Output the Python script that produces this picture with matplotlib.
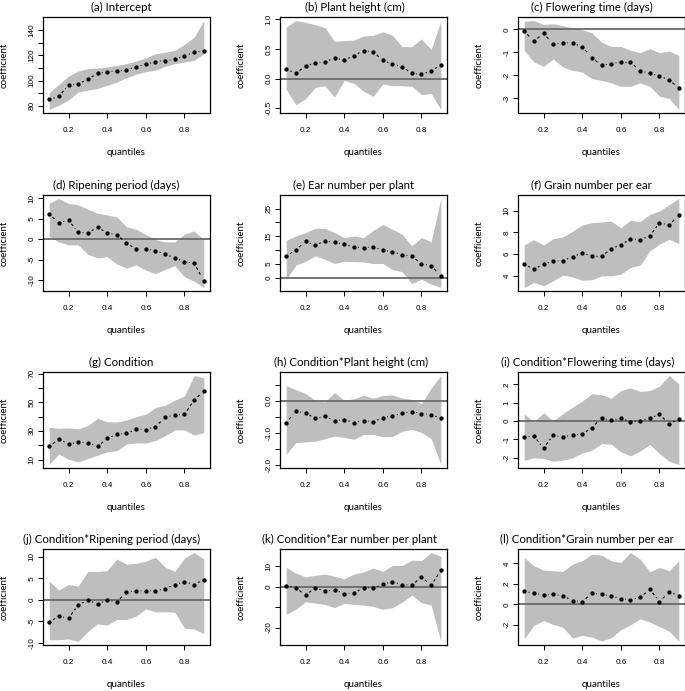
import numpy as np
import matplotlib
matplotlib.use("Agg")
import matplotlib.pyplot as plt
from matplotlib.collections import LineCollection

# quantile levels (tau = 0.10, 0.15, ..., 0.90)
taus = np.round(np.arange(0.10, 0.901, 0.05), 2)

# (a) Intercept
a_est = [85.0, 87.4, 96.6, 97.1, 101.0, 105.8, 106.8, 107.6, 108.4, 111.0, 112.9, 115.0, 115.8, 116.8, 119.7, 122.4, 123.7]
a_lo = [77.1, 80.5, 84.5, 91.0, 92.4, 93.7, 96.3, 98.7, 102.4, 105.0, 107.1, 108.2, 111.3, 113.4, 114.7, 116.0, 121.3]
a_hi = [90.3, 97.0, 103.4, 107.6, 109.5, 110.0, 110.8, 112.0, 113.4, 115.5, 118.0, 121.3, 122.4, 124.0, 128.7, 134.5, 147.6]

# (b) Plant height (cm)
b_est = [0.16, 0.09, 0.21, 0.27, 0.28, 0.35, 0.31, 0.39, 0.47, 0.45, 0.31, 0.24, 0.20, 0.09, 0.07, 0.13, 0.23]
b_lo = [-0.18, -0.44, -0.34, -0.15, -0.12, -0.31, -0.03, -0.08, -0.21, -0.30, -0.09, -0.12, -0.12, -0.13, -0.27, -0.25, -0.52]
b_hi = [0.87, 0.98, 0.95, 0.91, 0.86, 0.63, 0.64, 0.65, 0.72, 0.73, 0.79, 0.73, 0.54, 0.54, 0.67, 0.49, 0.97]

# (c) Flowering time (days)
c_est = [-0.07, -0.51, -0.17, -0.64, -0.58, -0.59, -0.75, -1.23, -1.57, -1.49, -1.42, -1.42, -1.81, -1.90, -2.04, -2.19, -2.57]
c_lo = [-0.91, -1.42, -1.61, -1.29, -1.64, -1.78, -1.86, -2.14, -2.22, -2.33, -2.48, -2.48, -2.33, -2.48, -2.91, -3.01, -3.49]
c_hi = [0.36, 0.39, 0.22, 0.25, 0.17, 0.07, -0.01, -0.14, -0.55, -0.74, -0.74, -0.91, -1.01, -0.84, -1.01, -0.94, -1.13]

# (d) Ripening period (days)
d_est = [6.1, 4.0, 4.6, 1.7, 1.5, 2.9, 1.5, 1.1, -1.0, -2.4, -2.4, -2.8, -3.7, -4.6, -5.5, -5.9, -10.2]
d_lo = [0.7, -0.7, -1.4, -1.4, -3.7, -4.6, -4.3, -6.1, -7.1, -6.3, -7.6, -8.4, -7.4, -6.5, -9.2, -10.3, -11.8]
d_hi = [8.8, 9.9, 8.7, 8.4, 7.3, 6.3, 5.9, 5.4, 3.0, 2.4, 1.1, -0.1, -0.7, -0.7, 1.2, 2.0, -0.2]

# (e) Ear number per plant
e_est = [7.8, 10.0, 13.2, 11.7, 13.3, 12.8, 12.1, 11.0, 10.9, 11.0, 10.0, 9.3, 8.3, 7.7, 5.0, 4.3, 0.6]
e_lo = [-0.8, 4.5, 5.9, 7.9, 6.6, 5.1, 5.9, 5.8, 5.7, 5.1, 5.1, 2.9, 2.1, -2.2, -0.6, -2.4, -3.6]
e_hi = [13.5, 15.1, 16.3, 17.9, 17.9, 16.3, 14.5, 15.1, 14.5, 17.1, 19.3, 17.5, 15.7, 11.5, 14.5, 13.0, 28.7]

# (f) Grain number per ear
f_est = [5.07, 4.6, 5.07, 5.34, 5.4, 5.74, 6.1, 5.8, 5.8, 6.47, 6.87, 7.35, 7.32, 7.66, 8.88, 8.66, 9.6]
f_lo = [2.93, 3.39, 3.09, 3.54, 4.06, 3.9, 3.6, 3.63, 4.0, 4.0, 4.15, 4.76, 4.97, 6.29, 6.9, 7.35, 6.96]
f_hi = [6.84, 7.32, 6.84, 7.41, 7.57, 8.1, 8.66, 8.88, 8.94, 9.03, 8.42, 9.1, 8.97, 9.64, 9.95, 10.55, 11.1]

# (g) Condition
g_est = [19.2, 24.3, 20.8, 22.2, 21.7, 19.2, 24.7, 27.7, 28.2, 31.1, 30.9, 33.0, 39.4, 41.3, 41.5, 51.6, 57.8]
g_lo = [6.6, 13.9, 10.2, 8.4, 10.7, 13.0, 15.3, 16.2, 20.8, 21.7, 21.5, 23.3, 26.6, 30.7, 30.7, 27.0, 28.9]
g_hi = [32.5, 31.8, 32.1, 31.4, 33.7, 38.7, 36.4, 36.2, 37.6, 39.9, 41.7, 46.3, 47.9, 51.4, 54.4, 68.6, 67.0]

# (h) Condition*Plant height (cm)
h_est = [-0.68, -0.33, -0.38, -0.55, -0.49, -0.62, -0.59, -0.68, -0.62, -0.66, -0.53, -0.47, -0.39, -0.34, -0.40, -0.43, -0.55]
h_lo = [-1.67, -1.30, -1.28, -1.26, -1.18, -1.10, -1.14, -1.20, -1.05, -1.05, -1.12, -1.11, -0.95, -0.89, -0.99, -1.18, -1.98]
h_hi = [0.47, 0.34, 0.22, 0.01, -0.04, 0.25, 0.01, 0.06, 0.16, 0.08, 0.16, 0.18, 0.08, 0.04, -0.09, 0.39, 0.78]

# (i) Condition*Flowering time (days)
i_est = [-0.89, -0.82, -1.49, -0.78, -0.89, -0.75, -0.73, -0.36, 0.16, 0.05, 0.16, -0.05, 0.02, 0.15, 0.36, -0.15, 0.09]
i_lo = [-2.15, -2.02, -2.05, -2.20, -2.15, -2.02, -1.75, -1.60, -1.24, -1.27, -1.69, -1.91, -1.65, -1.29, -1.78, -2.20, -2.38]
i_hi = [0.40, -0.05, 0.45, 0.02, 0.40, 0.76, 1.09, 1.49, 1.44, 1.25, 1.67, 1.82, 1.62, 1.67, 1.91, 2.49, 2.04]

# (j) Condition*Ripening period (days)
j_est = [-5.2, -3.8, -4.3, -1.2, -0.15, -0.9, -0.15, -0.5, 1.85, 2.1, 2.15, 2.1, 2.6, 3.5, 4.2, 3.55, 4.7]
j_lo = [-9.3, -9.3, -9.1, -9.7, -7.4, -5.6, -5.9, -4.6, -4.6, -3.8, -2.1, -2.8, -2.8, -2.9, -6.6, -6.8, -7.9]
j_hi = [4.3, 2.3, 3.55, 3.2, 6.6, 6.55, 6.8, 9.5, 8.3, 8.5, 9.0, 9.9, 7.6, 6.6, 9.7, 11.0, 9.5]

# (k) Condition*Ear number per plant
k_est = [0.5, -0.6, -4.2, -0.6, -2.3, -1.6, -3.4, -3.2, -0.6, -0.8, 1.1, 2.3, 1.0, 0.6, 4.7, 0.6, 7.9]
k_lo = [-13.5, -11.1, -7.4, -8.1, -8.7, -10.3, -8.2, -8.7, -9.0, -9.7, -11.1, -10.3, -7.6, -4.2, -7.9, -9.0, -26.8]
k_hi = [9.4, 6.6, 4.7, 5.5, 6.1, 5.0, 3.7, 6.1, 7.1, 9.0, 7.4, 10.3, 10.3, 12.9, 12.7, 16.6, 14.8]

# (l) Condition*Grain number per ear
l_est = [1.27, 1.07, 0.91, 0.97, 0.84, 0.36, 0.26, 1.07, 0.97, 0.81, 0.55, 0.45, 0.68, 1.46, 0.26, 1.2, 0.84]
l_lo = [-3.38, -2.08, -1.59, -1.98, -2.24, -3.31, -3.05, -3.21, -3.6, -3.28, -2.5, -2.01, -1.43, -1.75, -2.18, -2.63, -3.64]
l_hi = [4.58, 3.77, 3.35, 3.28, 3.21, 3.93, 4.25, 4.9, 4.8, 4.25, 4.09, 5.06, 4.42, 3.18, 3.6, 3.28, 4.25]

titles = ["(a) Intercept", "(b) Plant height (cm)", "(c) Flowering time (days)",
          "(d) Ripening period (days)", "(e) Ear number per plant", "(f) Grain number per ear",
          "(g) Condition", "(h) Condition*Plant height (cm)", "(i) Condition*Flowering time (days)",
          "(j) Condition*Ripening period (days)", "(k) Condition*Ear number per plant",
          "(l) Condition*Grain number per ear"]

# y ticks per panel: (positions, labels) - R drops overlapping labels
yticks = [
    ([80, 90, 100, 110, 120, 130, 140], ["80", "", "100", "", "120", "", "140"]),
    ([-0.5, 0.0, 0.5, 1.0], ["-0.5", "0.0", "0.5", "1.0"]),
    ([-3, -2, -1, 0], ["-3", "-2", "-1", "0"]),
    ([-10, -5, 0, 5, 10], ["-10", "-5", "0", "5", "10"]),
    ([0, 5, 10, 15, 20, 25], ["0", "5", "", "15", "", "25"]),
    ([4, 6, 8, 10], ["4", "6", "8", "10"]),
    ([10, 20, 30, 40, 50, 60, 70], ["10", "", "30", "", "50", "", "70"]),
    ([-2.0, -1.5, -1.0, -0.5, 0.0, 0.5], ["-2.0", "", "-1.0", "", "0.0", ""]),
    ([-2, -1, 0, 1, 2], ["-2", "-1", "0", "1", "2"]),
    ([-10, -5, 0, 5, 10], ["-10", "-5", "0", "5", "10"]),
    ([-20, -10, 0, 10], ["-20", "", "0", "10"]),
    ([-2, 0, 2, 4], ["-2", "0", "2", "4"]),
]

panels = [(a_est, a_lo, a_hi), (b_est, b_lo, b_hi), (c_est, c_lo, c_hi),
          (d_est, d_lo, d_hi), (e_est, e_lo, e_hi), (f_est, f_lo, f_hi),
          (g_est, g_lo, g_hi), (h_est, h_lo, h_hi), (i_est, i_lo, i_hi),
          (j_est, j_lo, j_hi), (k_est, k_lo, k_hi), (l_est, l_lo, l_hi)]

W, H = 685, 691
fig = plt.figure(figsize=(W / 100, H / 100), dpi=100)

lefts = [43, 280, 518]
tops = [17, 195, 372, 549]
aw, ah = 167, 96

label_font = "Lato"
tick_font = "Liberation Sans"
gap = 4.5  # pixel gap around points, like R type="b"

axes, title_texts = [], []
for n, (est, lo, hi) in enumerate(panels):
    r, c = divmod(n, 3)
    ax = fig.add_axes([lefts[c] / W, 1 - (tops[r] + ah) / H, aw / W, ah / H])
    est = np.asarray(est)
    ax.fill_between(taus, lo, hi, color="#bebebe", lw=0, zorder=1)

    # R-style axis ranges: data range extended by 4 %
    ymin, ymax = min(lo), max(hi)
    dy = (ymax - ymin) * 0.04
    dx = (taus[-1] - taus[0]) * 0.04
    ax.set_xlim(taus[0] - dx, taus[-1] + dx)
    ax.set_ylim(ymin - dy, ymax + dy)

    ax.axhline(0, color="#6a6a6a", lw=1.3, zorder=2)

    # dashed connectors with gaps at the points
    pts = ax.transData.transform(np.column_stack([taus, est]))
    segs = []
    for p0, p1 in zip(pts[:-1], pts[1:]):
        d = p1 - p0
        L = np.hypot(*d)
        if L > 2 * gap + 0.5:
            u = d / L
            segs.append(ax.transData.inverted().transform([p0 + u * gap, p1 - u * gap]))
    ax.add_collection(LineCollection(segs, colors="black", linewidths=0.8,
                                     linestyles=[(0, (2.5, 2.5))], zorder=3))
    ax.plot(taus, est, ls="none", marker="o", ms=2.1, mec="black", mfc="black", zorder=4)

    ax.set_xticks([0.2, 0.4, 0.6, 0.8])
    ax.set_xticklabels(["0.2", "0.4", "0.6", "0.8"], fontsize=5.9, family=tick_font)
    pos, labs = yticks[n]
    ax.set_yticks(pos)
    ax.set_yticklabels(labs, fontsize=5.9, family=tick_font, rotation=90, va="center")
    ax.tick_params(axis="x", direction="out", length=3.6, width=0.7, pad=6.5)
    ax.tick_params(axis="y", direction="out", length=3.6, width=0.7, pad=1.5)
    for s in ax.spines.values():
        s.set_linewidth(0.9)
    t = ax.set_title(titles[n], fontsize=10, family=label_font, pad=4.5)
    ax.set_xlabel("quantiles", fontsize=7, family=label_font)
    ax.set_ylabel("coefficient", fontsize=7, family=label_font)
    ax.xaxis.set_label_coords(0.5, -0.365)
    ax.yaxis.set_label_coords(-0.205, 0.5)
    axes.append(ax)
    title_texts.append(t)

# size titles so that "(h) ..." is ~155 px wide, and shift them slightly left
# like in the original (text is set a bit left of centre)
fig.canvas.draw()
renderer = fig.canvas.get_renderer()
w_ref = title_texts[7].get_window_extent(renderer).width
size = 10 * 155 / w_ref
for ax, t in zip(axes, title_texts):
    t.set_fontsize(size)
fig.canvas.draw()
for ax, t in zip(axes, title_texts):
    w = t.get_window_extent(renderer).width
    t.set_x(0.5 - 0.082 * w / aw)

fig.savefig("out.png", dpi=100)
